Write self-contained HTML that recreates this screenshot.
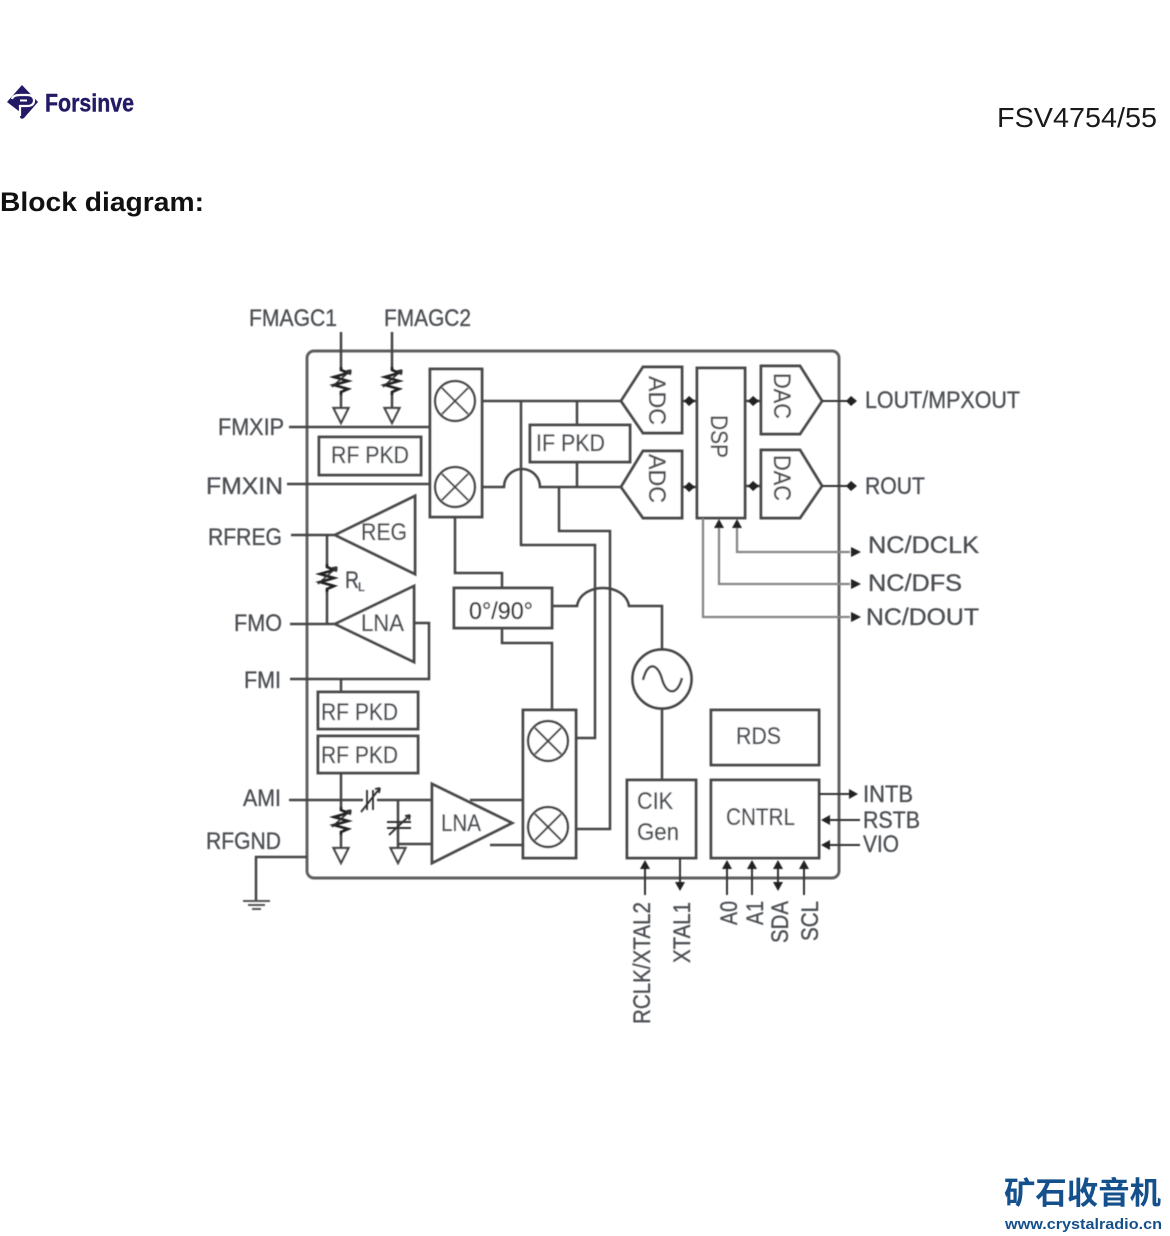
<!DOCTYPE html>
<html><head><meta charset="utf-8"><style>
html,body{margin:0;padding:0;background:#fff;width:1170px;height:1236px;overflow:hidden}
svg{display:block}
.l{font-family:"Liberation Sans",sans-serif;font-size:24px;fill:#4c4f53;stroke:#4c4f53;stroke-width:.35}
.w{fill:none;stroke:#444;stroke-width:2.5}
.g{fill:none;stroke:#858585;stroke-width:2.2}
.b{fill:#fff;stroke:#4a4a4a;stroke-width:2.9}
.a{fill:#222}
</style></head><body>
<svg width="1170" height="1236" viewBox="0 0 1170 1236" xmlns="http://www.w3.org/2000/svg">
<defs>
<filter id="bl" x="-5%" y="-5%" width="110%" height="110%"><feGaussianBlur stdDeviation="0.5"/></filter>
<g id="res"><path d="M0 0V3L7 6L-7 10L7 14L-7 18L7 22L0 25V28" fill="none" stroke="#222" stroke-width="2.7"/><path d="M-9 20L10 3M10 3l-5 1M10 3l-1 5" fill="none" stroke="#333" stroke-width="1.6"/></g>
<polygon id="tri" points="-7.5,0 7.5,0 0,15" fill="#fff" stroke="#444" stroke-width="2.2"/>
<g id="mix"><circle r="20" fill="#fff" stroke="#444" stroke-width="2.5"/><path d="M-13 -13L13 13M13 -13L-13 13" stroke="#444" stroke-width="2"/></g>
</defs>

<!-- header -->
<g>
<path d="M22 85L38 102L24 118Q21 120 20 117V112L7 102Z" fill="#231a66"/>
<path d="M12 99Q13 95 20 95H27Q34 95 34 100.500Q34 106 27 106H20V116" fill="none" stroke="#fff" stroke-width="2.2"/>
<path d="M20 100.500H27" stroke="#fff" stroke-width="2"/>
<text x="45" y="111.500" font-family="Liberation Sans,sans-serif" font-weight="700" font-size="25" fill="#231a66" stroke="#231a66" stroke-width=".4" textLength="89" lengthAdjust="spacingAndGlyphs">Forsinve</text>
<text x="997" y="127" font-family="Liberation Sans,sans-serif" font-size="28" fill="#1a1a1a" textLength="160" lengthAdjust="spacingAndGlyphs">FSV4754/55</text>
<text x="0" y="211" font-family="Liberation Sans,sans-serif" font-weight="700" font-size="27" fill="#111" textLength="204" lengthAdjust="spacingAndGlyphs">Block diagram:</text>
</g>

<g filter="url(#bl)">
<!-- outer frame -->
<rect x="307" y="351" width="532" height="527" rx="7" fill="none" stroke="#5e5e5e" stroke-width="2.9"/>

<!-- left wiring -->
<path class="w" d="M341 332V369M341 393V408M392 332V369M392 393V408"/>
<use href="#res" x="341" y="367"/><use href="#res" x="392" y="367"/>
<use href="#tri" x="341" y="408"/><use href="#tri" x="392" y="408"/>
<path class="w" d="M289 427H430M287 484H430M291 535H335M327 535V565M327 590V624M290 624H335"/>
<use href="#res" x="327" y="564"/>
<path class="w" d="M414 623H429V679H290M341 679V692"/>
<rect class="b" x="319" y="437" width="102" height="38"/>
<polygon class="b" points="335,535 415,496 415,574"/>
<polygon class="b" points="335,624 414,586 414,662"/>
<rect class="b" x="318" y="692" width="100" height="37"/>
<rect class="b" x="318" y="736" width="100" height="37"/>
<path class="w" d="M341 773V808M341 835V848M289 800H363M377 800H431M398 800V848M398 844H431"/>
<use href="#res" x="341" y="807"/>
<use href="#tri" x="341" y="848"/><use href="#tri" x="398" y="848"/>
<path d="M367 790V810M373 790V810M361 812L380 788M380 788l-5 1M380 788l-1 5" fill="none" stroke="#333" stroke-width="1.9"/>
<path d="M387 822H411M387 828H411M389 835L410 815M410 815l-5 1M410 815l-1 5" fill="none" stroke="#333" stroke-width="1.9"/>
<path class="w" d="M307 857H256V900"/>
<path d="M243 901H270M248 905H265M252 909H261" stroke="#555" stroke-width="2" fill="none"/>

<!-- LNA 2 -->
<path class="w" d="M470 800H523M490 845H523"/>
<polygon class="b" points="432,784 432,863 512,823"/>

<!-- mixers -->
<rect class="b" x="430" y="369" width="52" height="148"/>
<use href="#mix" x="455" y="401"/><use href="#mix" x="455" y="487"/>
<rect class="b" x="523" y="710" width="53" height="148"/>
<use href="#mix" x="548" y="741"/><use href="#mix" x="548" y="827"/>

<!-- center wiring -->
<path class="w" d="M482 401H621M577 401V425M577 462V487M482 487H504A18 18 0 0 1 540 487H621"/>
<path class="w" d="M521 401V545H595V738H576"/>
<path class="w" d="M559 487V531H610V829H576"/>
<path class="w" d="M455 517V573H502V588M502 628V643H552V710"/>
<path class="w" d="M552 606H577C581 582 625 582 629 606H662V649M662 709V780"/>
<rect class="b" x="530" y="425" width="100" height="37"/>
<rect class="b" x="454" y="588" width="98" height="40"/>
<circle cx="662" cy="679" r="29.500" fill="#fff" stroke="#444" stroke-width="2.700"/>
<path d="M643 680C648 660 658 664 662 679C666 694 677 697 682 678" fill="none" stroke="#444" stroke-width="2.500"/>

<!-- ADC/DSP/DAC -->
<polygon class="b" points="621,401 643,367 682,367 682,433 643,433"/>
<polygon class="b" points="621,487 643,451 682,451 682,518 643,518"/>
<rect class="b" x="697" y="368" width="48" height="150"/>
<polygon class="b" points="761,366 800,366 822,401 800,434 761,434"/>
<polygon class="b" points="761,450 800,450 822,486 800,518 761,518"/>
<path class="w" d="M682 401H697M682 487H697M745 401H761M745 486H761"/>
<path class="a" d="M684 401l5 -5l6 5l-6 5zM684 487l5 -5l6 5l-6 5zM748 401l5 -5l6 5l-6 5zM748 486l5 -5l6 5l-6 5z"/>
<path d="M822 401H850M822 486H850" stroke="#333" stroke-width="2"/>
<path class="a" d="M846 401l5 -5l6 5l-6 5zM846 486l5 -5l6 5l-6 5z"/>

<!-- NC lines -->
<path class="g" d="M703 518V617H850M719 526V584H850M737 526V552H850"/>
<path class="a" d="M719 519l5 9h-10zM737 519l5 9h-10zM851 547l10 5l-10 5zM851 579l10 5l-10 5zM851 612l10 5l-10 5z"/>

<!-- bottom blocks -->
<rect class="b" x="711" y="710" width="108" height="55"/>
<rect class="b" x="627" y="780" width="69" height="78"/>
<rect class="b" x="711" y="780" width="108" height="78"/>
<path d="M819 794H852M824 820H860M824 845H860M645 868V895M680 858V884M727 868V895M752 868V895M778 868V886M804 868V895" stroke="#333" stroke-width="2" fill="none"/>
<path class="a" d="M849 789l9 5l-9 5zM830 815l-9 5l9 5zM830 840l-9 5l9 5zM645 860l5 9h-10zM680 891l5 -9h-10zM727 860l5 9h-10zM752 860l5 9h-10zM778 860l5 9h-10zM778 891l5 -9h-10zM804 860l5 9h-10z"/>

<!-- labels -->
<g class="l">
<text x="249" y="326" textLength="88" lengthAdjust="spacingAndGlyphs">FMAGC1</text>
<text x="384" y="326" textLength="87" lengthAdjust="spacingAndGlyphs">FMAGC2</text>
<text x="218" y="435" textLength="66" lengthAdjust="spacingAndGlyphs">FMXIP</text>
<text x="206" y="494" textLength="77" lengthAdjust="spacingAndGlyphs">FMXIN</text>
<text x="208" y="545" textLength="74" lengthAdjust="spacingAndGlyphs">RFREG</text>
<text x="234" y="631" textLength="48" lengthAdjust="spacingAndGlyphs">FMO</text>
<text x="244" y="688" textLength="37" lengthAdjust="spacingAndGlyphs">FMI</text>
<text x="243" y="806" textLength="38" lengthAdjust="spacingAndGlyphs">AMI</text>
<text x="206" y="849" textLength="75" lengthAdjust="spacingAndGlyphs">RFGND</text>
<text x="331" y="463" textLength="78" lengthAdjust="spacingAndGlyphs">RF PKD</text>
<text x="361" y="540" textLength="46" lengthAdjust="spacingAndGlyphs">REG</text>
<text x="345" y="588" textLength="14" lengthAdjust="spacingAndGlyphs">R</text>
<text x="358" y="591" style="font-size:12px">L</text>
<text x="361" y="631" textLength="43" lengthAdjust="spacingAndGlyphs">LNA</text>
<text x="321" y="720" textLength="77" lengthAdjust="spacingAndGlyphs">RF PKD</text>
<text x="321" y="763" textLength="77" lengthAdjust="spacingAndGlyphs">RF PKD</text>
<text x="441" y="831" textLength="40" lengthAdjust="spacingAndGlyphs">LNA</text>
<text x="536" y="451" textLength="69" lengthAdjust="spacingAndGlyphs">IF PKD</text>
<text x="469" y="619" textLength="64" lengthAdjust="spacingAndGlyphs" style="fill:#333">0°/90°</text>
<text x="736" y="744" textLength="45" lengthAdjust="spacingAndGlyphs">RDS</text>
<text x="637" y="809" textLength="36" lengthAdjust="spacingAndGlyphs">CIK</text>
<text x="637" y="840" textLength="42" lengthAdjust="spacingAndGlyphs">Gen</text>
<text x="726" y="825" textLength="69" lengthAdjust="spacingAndGlyphs">CNTRL</text>
<text x="865" y="408" textLength="155" lengthAdjust="spacingAndGlyphs">LOUT/MPXOUT</text>
<text x="865" y="494" textLength="60" lengthAdjust="spacingAndGlyphs">ROUT</text>
<text x="868" y="553" textLength="111" lengthAdjust="spacingAndGlyphs">NC/DCLK</text>
<text x="868" y="591" textLength="94" lengthAdjust="spacingAndGlyphs">NC/DFS</text>
<text x="866" y="625" textLength="113" lengthAdjust="spacingAndGlyphs">NC/DOUT</text>
<text x="863" y="802" textLength="50" lengthAdjust="spacingAndGlyphs">INTB</text>
<text x="863" y="828" textLength="57" lengthAdjust="spacingAndGlyphs">RSTB</text>
<text x="863" y="852" textLength="36" lengthAdjust="spacingAndGlyphs">VIO</text>
<text transform="translate(650,1024) rotate(-90)" textLength="122" lengthAdjust="spacingAndGlyphs">RCLK/XTAL2</text>
<text transform="translate(690,963) rotate(-90)" textLength="61" lengthAdjust="spacingAndGlyphs">XTAL1</text>
<text transform="translate(737,925) rotate(-90)" textLength="24" lengthAdjust="spacingAndGlyphs">A0</text>
<text transform="translate(763,925) rotate(-90)" textLength="24" lengthAdjust="spacingAndGlyphs">A1</text>
<text transform="translate(788,943) rotate(-90)" textLength="42" lengthAdjust="spacingAndGlyphs">SDA</text>
<text transform="translate(818,941) rotate(-90)" textLength="40" lengthAdjust="spacingAndGlyphs">SCL</text>
<text transform="translate(649,376) rotate(90)" textLength="49" lengthAdjust="spacingAndGlyphs">ADC</text>
<text transform="translate(649,454) rotate(90)" textLength="49" lengthAdjust="spacingAndGlyphs">ADC</text>
<text transform="translate(711,415) rotate(90)" textLength="43" lengthAdjust="spacingAndGlyphs">DSP</text>
<text transform="translate(774,373) rotate(90)" textLength="46" lengthAdjust="spacingAndGlyphs">DAC</text>
<text transform="translate(774,455) rotate(90)" textLength="46" lengthAdjust="spacingAndGlyphs">DAC</text>
</g>
</g>

<!-- footer -->
<text x="1004" y="1204" font-family="'Liberation Sans','Noto Sans CJK SC',sans-serif" font-weight="700" font-size="31" fill="#14508c" textLength="157" lengthAdjust="spacingAndGlyphs">矿石收音机</text>
<text x="1005" y="1229" font-family="'Liberation Sans',sans-serif" font-weight="700" font-size="15" fill="#14508c" textLength="157" lengthAdjust="spacingAndGlyphs">www.crystalradio.cn</text>
</svg>
</body></html>
